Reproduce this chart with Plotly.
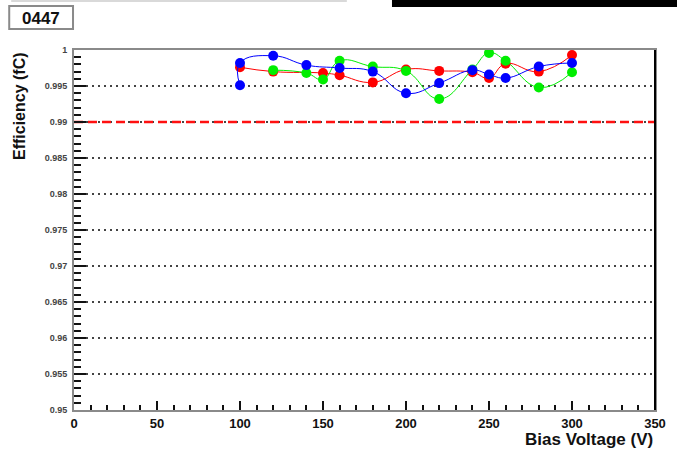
import plotly.graph_objects as go

# ---- data ----
blue_x = [100, 100, 120, 140, 160, 180, 200, 220, 240, 250, 260, 280, 300]
blue_y = [0.9951, 0.9982, 0.9992, 0.9979, 0.9975, 0.9970, 0.9940, 0.9954, 0.9972, 0.9966, 0.9961, 0.9977, 0.9982]

red_x = [100, 120, 150, 160, 180, 200, 220, 240, 250, 260, 280, 300]
red_y = [0.9976, 0.9970, 0.9968, 0.9965, 0.9955, 0.9973, 0.9971, 0.9969, 0.9961, 0.9981, 0.9970, 0.9993]

green_x = [120, 140, 150, 160, 180, 200, 220, 240, 250, 260, 280, 300]
green_y = [0.9972, 0.9968, 0.9959, 0.9985, 0.9977, 0.9971, 0.9932, 0.9973, 0.9996, 0.9985, 0.9948, 0.9969]

threshold = 0.99
y_ticks = [0.95, 0.955, 0.96, 0.965, 0.97, 0.975, 0.98, 0.985, 0.99, 0.995, 1.0]
y_labels = ["0.95", "0.955", "0.96", "0.965", "0.97", "0.975", "0.98", "0.985", "0.99", "0.995", "1"]
x_ticks = [0, 50, 100, 150, 200, 250, 300, 350]
title_text = "0447"
x_title = "Bias Voltage (V)"
y_title = "Efficiency (fC)"

# ---- layout geometry ----
W, H = 677, 449
L, R, T, B = 74, 11, 50, 39
pw, ph = W - L - R, H - T - B


def px(x):
    return (x - L) / pw


def py(y):
    return (H - B - y) / ph


FONT = "Liberation Sans"

fig = go.Figure()

fig.add_trace(go.Scatter(
    x=[0, 350], y=[threshold, threshold], mode="lines",
    line=dict(color="#ff1010", width=2.5, dash="9px,5px"),
    hoverinfo="skip", showlegend=False))

for xs, ys, col in [(red_x, red_y, "#ff0000"), (green_x, green_y, "#00ee00"), (blue_x, blue_y, "#0000ff")]:
    fig.add_trace(go.Scatter(
        x=xs, y=ys, mode="lines+markers",
        line=dict(color=col, width=1, shape="spline", smoothing=1.3),
        marker=dict(color=col, size=10, symbol="circle"),
        showlegend=False))

fig.update_layout(
    width=W, height=H,
    margin=dict(l=L, r=R, t=T, b=B, pad=0),
    paper_bgcolor="white", plot_bgcolor="white",
    showlegend=False,
    xaxis=dict(
        range=[0, 350], tickvals=x_ticks, showgrid=False, zeroline=False,
        showline=True, linecolor="#8a8a8a", linewidth=2, mirror=True,
        ticks="inside", ticklen=9, tickcolor="#111", tickwidth=1.5,
        minor=dict(ticks="inside", ticklen=5, dtick=10, tickcolor="#111", tickwidth=1.5),
        tickfont=dict(family=FONT, size=13, color="#111", weight="bold"),
    ),
    yaxis=dict(
        range=[0.95, 1.0], tickvals=y_ticks, ticktext=y_labels,
        showgrid=True, gridcolor="#444", griddash="2px,4px", gridwidth=1.5,
        zeroline=False,
        showline=True, linecolor="#8a8a8a", linewidth=2, mirror=True,
        ticks="inside", ticklen=12, tickcolor="#111", tickwidth=1.5,
        minor=dict(ticks="inside", ticklen=7, dtick=0.001, tickcolor="#111", tickwidth=1.5, showgrid=False),
        tickfont=dict(family=FONT, size=9, color="#444", weight="bold"),
        ticklabelstandoff=3,
    ),
    shapes=[
        # right frame line
        dict(type="line", xref="paper", yref="paper", x0=1, x1=1, y0=0, y1=1,
             line=dict(color="black", width=2)),
        # title box
        dict(type="rect", xref="paper", yref="paper",
             x0=px(8), x1=px(73), y0=py(29), y1=py(6),
             line=dict(color="#8a8a8a", width=2), fillcolor="white"),
        # top artifacts
        dict(type="rect", xref="paper", yref="paper",
             x0=px(398), x1=px(700), y0=py(7), y1=py(-5),
             line=dict(width=0), fillcolor="black"),
        dict(type="line", xref="paper", yref="paper",
             x0=px(10), x1=px(352), y0=py(1), y1=py(1),
             line=dict(color="#cccccc", width=1.5)),
    ],
    annotations=[
        dict(text=title_text, xref="paper", yref="paper", x=px(40.5), y=py(18),
             xanchor="center", yanchor="middle", showarrow=False,
             font=dict(family=FONT, size=17, color="#111", weight="bold")),
        dict(text=x_title, xref="paper", yref="paper", x=px(666), y=py(439),
             xanchor="right", yanchor="middle", showarrow=False,
             font=dict(family=FONT, size=17, color="#111", weight="bold")),
        dict(text=y_title, xref="paper", yref="paper", x=px(18), y=py(50),
             xanchor="center", yanchor="top", textangle=-90, showarrow=False,
             font=dict(family=FONT, size=16, color="#111", weight="bold")),
    ],
)

fig.write_html(
    "out.html",
    config={"displayModeBar": False},
    post_script="document.body.style.margin='0';document.body.style.padding='0';",
)
